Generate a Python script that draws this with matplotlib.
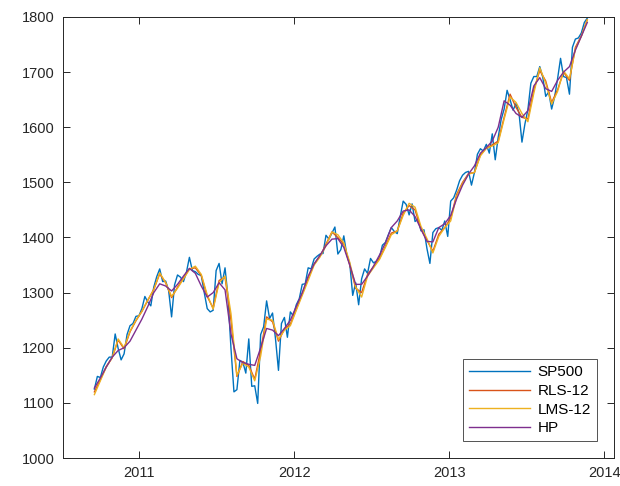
#------------------------------------------------------------------------------
#	Libraries
#------------------------------------------------------------------------------
import numpy as np
import pandas as pd
import matplotlib
matplotlib.use("Agg")
from matplotlib import pyplot as plt
import matplotlib.dates as mdates


#------------------------------------------------------------------------------
#	Data
#------------------------------------------------------------------------------
# weekly SP500 (Fridays, 2010-09-17 .. 2013-11-22)
sp500_start, sp500_end = "2010-09-17", "2013-11-22"
sp500 = [
	1125, 1148, 1146, 1165, 1176, 1183, 1183, 1225, 1199, 1178, 1189, 1224,
	1240, 1244, 1257, 1258,
	# 2011
	1271, 1293, 1283, 1276, 1310, 1329, 1343, 1320, 1321, 1304, 1256, 1314,
	1332, 1328, 1320, 1337, 1364, 1340, 1338, 1333, 1331, 1300, 1271, 1265,
	1268, 1340, 1353, 1316, 1345, 1292, 1199, 1120, 1124, 1177, 1174, 1154,
	1216, 1130, 1131, 1099, 1224, 1238, 1285, 1253, 1263, 1216, 1159, 1244,
	1255, 1219, 1265, 1258,
	# 2012
	1278, 1289, 1315, 1316, 1345, 1343, 1361, 1366, 1370, 1371, 1404, 1397,
	1408, 1419, 1370, 1378, 1403, 1369, 1353, 1295, 1318, 1278, 1325, 1343,
	1335, 1362, 1354, 1357, 1363, 1386, 1391, 1405, 1418, 1411, 1407, 1438,
	1466, 1460, 1441, 1461, 1429, 1433, 1412, 1414, 1380, 1353, 1409, 1416,
	1418, 1413, 1430, 1402,
	# 2013
	1466, 1472, 1486, 1503, 1513, 1518, 1520, 1495, 1518, 1551, 1561, 1557,
	1569, 1553, 1588, 1541, 1582, 1614, 1633, 1667, 1650, 1631, 1643, 1626,
	1573, 1606, 1632, 1680, 1692, 1692, 1710, 1691, 1656, 1664, 1633, 1655,
	1688, 1725, 1692, 1690, 1660, 1745, 1760, 1762, 1771, 1790, 1798,
]

# filtered series, every second Friday
filt_start, filt_end = "2010-09-17", "2013-11-22"
rls12 = [
	1120, 1142, 1166, 1182, 1214, 1198, 1229, 1249, 1266, 1286, 1306, 1334,
	1318, 1291, 1310, 1326, 1343, 1345, 1331, 1293, 1272, 1322, 1328, 1250,
	1148, 1175, 1168, 1143, 1195, 1256, 1247, 1212, 1234, 1243, 1270, 1298,
	1326, 1352, 1366, 1388, 1410, 1400, 1388, 1350, 1308, 1300, 1333, 1347,
	1362, 1384, 1408, 1412, 1444, 1458, 1450, 1415, 1395, 1375, 1406, 1418,
	1435, 1478, 1500, 1516, 1518, 1550, 1562, 1568, 1575, 1618, 1660, 1636,
	1618, 1615, 1668, 1703, 1684, 1645, 1668, 1700, 1685, 1745, 1766, 1795,
]
lms12 = [
	1115, 1140, 1165, 1182, 1216, 1200, 1230, 1250, 1266, 1287, 1305, 1336,
	1318, 1293, 1308, 1325, 1342, 1348, 1333, 1296, 1270, 1318, 1330, 1262,
	1150, 1172, 1165, 1140, 1185, 1252, 1250, 1215, 1232, 1240, 1268, 1295,
	1322, 1350, 1365, 1385, 1410, 1405, 1390, 1355, 1310, 1292, 1330, 1345,
	1360, 1382, 1405, 1412, 1440, 1462, 1455, 1420, 1398, 1372, 1402, 1418,
	1430, 1475, 1498, 1515, 1518, 1548, 1562, 1566, 1572, 1615, 1655, 1645,
	1625, 1610, 1662, 1708, 1680, 1642, 1665, 1702, 1688, 1742, 1765, 1795,
]
hp = [
	1127, 1145, 1165, 1183, 1195, 1200, 1212, 1232, 1252, 1275, 1300, 1316,
	1312, 1303, 1315, 1330, 1344, 1335, 1312, 1292, 1300, 1318, 1305, 1225,
	1180, 1173, 1170, 1168, 1200, 1235, 1232, 1222, 1235, 1250, 1275, 1300,
	1330, 1352, 1368, 1385, 1397, 1398, 1382, 1350, 1315, 1315, 1330, 1348,
	1368, 1390, 1418, 1430, 1448, 1450, 1438, 1415, 1393, 1392, 1418, 1425,
	1440, 1470, 1495, 1515, 1530, 1553, 1563, 1575, 1600, 1648, 1640, 1625,
	1618, 1630, 1675, 1690, 1670, 1665, 1685, 1700, 1710, 1740, 1765, 1790,
]

labels = ["SP500", "RLS-12", "LMS-12", "HP"]
colors = ["#0072BD", "#D95319", "#EDB120", "#7E2F8E"]

sp500_dates = pd.date_range(sp500_start, sp500_end, freq="W-FRI")
filt_dates = pd.date_range(filt_start, filt_end, freq="2W-FRI")
assert len(sp500_dates) == len(sp500)
assert len(filt_dates) == len(rls12) == len(lms12) == len(hp)


#------------------------------------------------------------------------------
#	Plot
#------------------------------------------------------------------------------
plt.rcParams['font.family'] = ['Liberation Sans', 'DejaVu Sans']
edge = (0.15, 0.15, 0.15)

fig = plt.figure(figsize=(6.2, 4.86), dpi=100)
ax = fig.add_axes([63/620, 28/486, 551/620, 441/486])

ax.plot(sp500_dates, sp500, color=colors[0], lw=1.0, label=labels[0])
ax.plot(filt_dates, rls12, color=colors[1], lw=1.0, label=labels[1])
ax.plot(filt_dates, lms12, color=colors[2], lw=1.0, label=labels[2])
ax.plot(filt_dates, hp, color=colors[3], lw=1.0, label=labels[3])

ax.set_xlim(pd.Timestamp("2010-07-05"), pd.Timestamp("2014-01-24"))
ax.set_ylim(1000, 1800)
ax.set_yticks(np.arange(1000, 1801, 100))
ax.xaxis.set_major_locator(mdates.YearLocator())
ax.xaxis.set_major_formatter(mdates.DateFormatter("%Y"))

ax.tick_params(direction='in', length=5, width=0.7, colors=edge,
	labelsize=10.5, top=True, right=True, pad=6)
for s in ax.spines.values():
	s.set_color(edge)
	s.set_linewidth(0.7)

leg = ax.legend(loc='lower right', fontsize=11, frameon=True, fancybox=False,
	handlelength=4.0, borderaxespad=1.1, labelspacing=0.3, handletextpad=0.5,
	borderpad=0.4, bbox_to_anchor=(1.0, 0.0))
leg.get_frame().set_edgecolor(edge)
leg.get_frame().set_linewidth(0.7)

plt.savefig("out.png", dpi=100)
